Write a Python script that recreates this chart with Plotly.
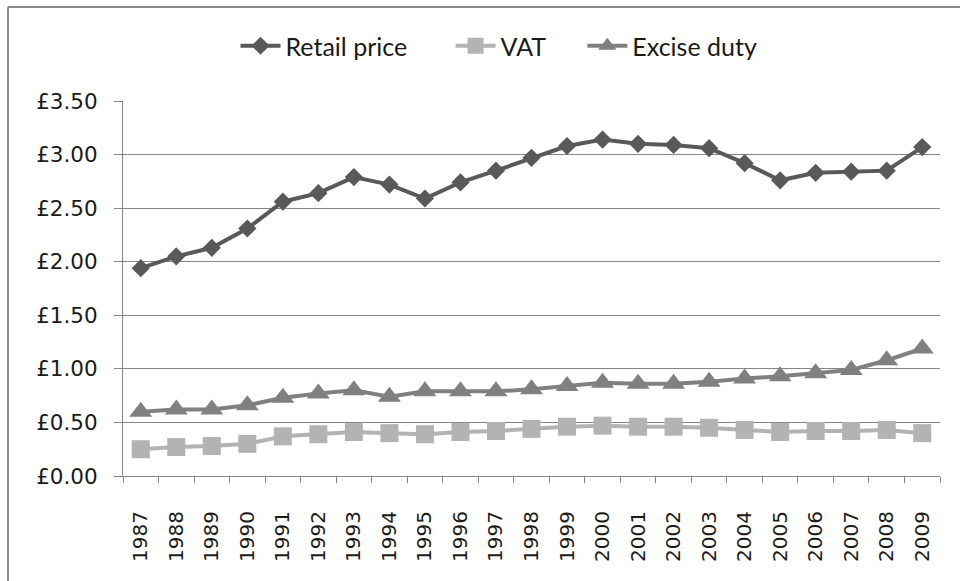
import plotly.graph_objects as go

years = [str(y) for y in range(1987, 2010)]
retail_price = [1.94, 2.05, 2.13, 2.31, 2.56, 2.64, 2.79, 2.72, 2.59, 2.74, 2.85, 2.97,
                3.08, 3.14, 3.10, 3.09, 3.06, 2.92, 2.76, 2.83, 2.84, 2.85, 3.07]
vat = [0.25, 0.27, 0.28, 0.30, 0.37, 0.39, 0.41, 0.40, 0.39, 0.41, 0.42, 0.44,
       0.46, 0.47, 0.46, 0.46, 0.45, 0.43, 0.41, 0.42, 0.42, 0.43, 0.40]
excise_duty = [0.60, 0.62, 0.62, 0.66, 0.73, 0.77, 0.80, 0.74, 0.79, 0.79, 0.79, 0.81,
               0.84, 0.87, 0.86, 0.86, 0.88, 0.91, 0.93, 0.96, 0.99, 1.08, 1.19]
y_ticks = [0, 0.5, 1.0, 1.5, 2.0, 2.5, 3.0, 3.5]
y_tick_labels = ["£0.00", "£0.50", "£1.00", "£1.50", "£2.00", "£2.50", "£3.00", "£3.50"]

fig = go.Figure()
fig.add_trace(go.Scatter(x=years, y=retail_price, name="Retail price" + "\u00a0" * 6,
                         mode="lines+markers",
                         line=dict(color="#595959", width=4),
                         marker=dict(symbol="diamond", size=14, color="#595959")))
fig.add_trace(go.Scatter(x=years, y=vat, name="VAT" + "\u00a0" * 5, mode="lines+markers",
                         line=dict(color="#b3b3b3", width=4),
                         marker=dict(symbol="square", size=18, color="#b3b3b3")))
fig.add_trace(go.Scatter(x=years, y=excise_duty, name="Excise duty", mode="lines+markers",
                         line=dict(color="#808080", width=4),
                         marker=dict(symbol="triangle-up", size=20, color="#808080")))

L, R, T, B = 123, 20, 101, 105
W, H = 960, 581
pw, ph = W - L - R, H - T - B

def px_x(x):
    return (x - L) / pw

def px_y(y):
    return (H - B - y) / ph

fig.update_layout(
    width=W, height=H,
    margin=dict(l=L, r=R, t=T, b=B),
    paper_bgcolor="white", plot_bgcolor="white",
    font=dict(family="DejaVu Sans", color="#1a1a1a"),
    showlegend=True,
    legend=dict(orientation="h", x=px_x(499), xanchor="center", y=px_y(46), yanchor="middle",
                font=dict(family="Lato", size=25, color="#1a1a1a"),
                itemwidth=40, tracegroupgap=0, bgcolor="rgba(0,0,0,0)"),
    xaxis=dict(type="category", tickson="boundaries", ticks="outside", ticklen=6,
               tickcolor="#868686", showline=True, linecolor="#868686", linewidth=1,
               showgrid=False, tickangle=-90,
               tickfont=dict(family="DejaVu Sans", size=20, color="#1a1a1a"),
               ticklabelstandoff=26, range=[-0.5, 22.5]),
    yaxis=dict(range=[0, 3.5], tickvals=y_ticks, ticktext=y_tick_labels,
               ticks="outside", ticklen=8, tickcolor="#868686",
               showline=True, linecolor="#868686", linewidth=1,
               showgrid=True, gridcolor="#868686", gridwidth=1, zeroline=False,
               tickfont=dict(family="DejaVu Sans", size=21.5, color="#1a1a1a"),
               ticklabelstandoff=12),
    shapes=[
        dict(type="line", xref="paper", yref="paper", x0=px_x(8), x1=px_x(962),
             y0=px_y(7), y1=px_y(7), line=dict(color="#888888", width=2)),
        dict(type="line", xref="paper", yref="paper", x0=px_x(8), x1=px_x(8),
             y0=px_y(7), y1=px_y(590), line=dict(color="#888888", width=2)),
    ],
)

fig.write_html("out.html", config={"displayModeBar": False},
               post_script="document.body.style.margin='0';document.body.style.overflow='hidden';")
